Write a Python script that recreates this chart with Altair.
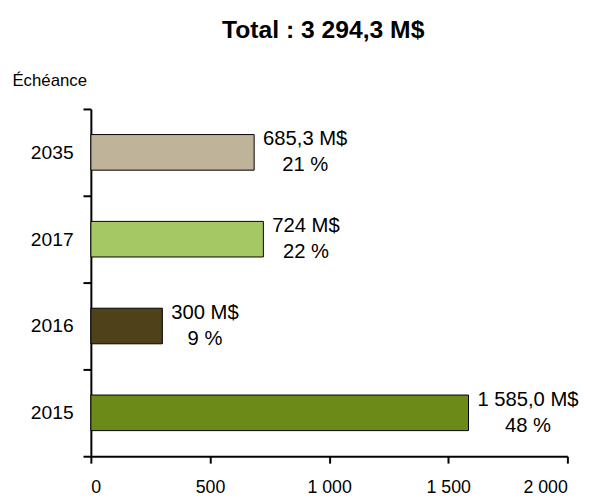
import altair as alt
import pandas as pd

# ---- data ----
years = ["2035", "2017", "2016", "2015"]
amounts = [685.3, 724.0, 300.0, 1585.0]
amount_labels = ["685,3 M$", "724 M$", "300 M$", "1 585,0 M$"]
pct_labels = ["21 %", "22 %", "9 %", "48 %"]
bar_colors = ["#BFB49A", "#A5C864", "#4F4219", "#6B8A17"]
x_ticks = [0, 500, 1000, 1500, 2000]
title_text = "Total : 3 294,3 M$"
y_title = "Échéance"

FONT = "Liberation Sans"
LABEL_SIZE = 20.5
LINE_H = 26

df = pd.DataFrame({
    "year": years,
    "amount": amounts,
    "label": [a + "\n" + p for a, p in zip(amount_labels, pct_labels)],
})

# approximate Arial/Liberation Sans advance widths (em)
CHAR_W = {c: 0.556 for c in "0123456789$"}
CHAR_W.update({" ": 0.278, ",": 0.278, ".": 0.278, "M": 0.833, "%": 0.889})


def text_width(s, size):
    return sum(CHAR_W.get(ch, 0.556) for ch in s) * size


y_enc = alt.Y(
    "year:N",
    sort=years,
    scale=alt.Scale(paddingInner=0, paddingOuter=0),
    axis=alt.Axis(
        title=y_title, titleAngle=0, titleAlign="left", titleBaseline="alphabetic",
        titleX=-80, titleY=-24, titleFontSize=17, titleFontWeight="normal",
        titleFont=FONT, titleColor="black",
        labelFontSize=19.5, labelFont=FONT, labelColor="black", labelPadding=10,
        tickBand="extent", tickSize=8, tickWidth=2, tickColor="black",
        domainColor="black", domainWidth=2,
    ),
)
x_enc = alt.X(
    "amount:Q",
    scale=alt.Scale(domain=[0, 2000], nice=False),
    axis=alt.Axis(
        title=None, values=x_ticks, grid=False,
        labelExpr="replace(format(datum.value, ','), ',', ' ')",
        labelFontSize=18, labelFont=FONT, labelColor="black", labelPadding=16,
        tickSize=7, tickWidth=2, tickColor="black",
        domainColor="black", domainWidth=2,
    ),
)

bars = alt.Chart(df).mark_bar(
    stroke="black", strokeWidth=1, height=alt.RelativeBandSize(0.41)
).encode(
    x=x_enc,
    y=y_enc,
    color=alt.Color("year:N", scale=alt.Scale(domain=years, range=bar_colors), legend=None),
)

layers = [bars]
for yr, a, p in zip(years, amount_labels, pct_labels):
    w = max(text_width(a, LABEL_SIZE), text_width(p, LABEL_SIZE))
    layers.append(
        alt.Chart(df).transform_filter(alt.datum.year == yr).mark_text(
            align="center", baseline="middle", dx=9 + w / 2, dy=-LINE_H / 2,
            fontSize=LABEL_SIZE, lineHeight=LINE_H, lineBreak="\n",
            font=FONT, color="black",
        ).encode(
            x=alt.X("amount:Q"),
            y=alt.Y("year:N", sort=years),
            text="label:N",
        )
    )

chart = alt.layer(*layers).properties(
    width=483,
    height=352,
    autosize=alt.AutoSizeParams(type="none"),
    padding={"left": 84, "top": 99, "right": 28, "bottom": 39},
    title=alt.TitleParams(
        title_text, fontSize=25, fontWeight="bold", font=FONT, color="black",
        anchor="middle", dx=-6, offset=29,
    ),
).configure_view(stroke=None)

chart.save("out.html", embed_options={"renderer": "svg", "actions": False})
